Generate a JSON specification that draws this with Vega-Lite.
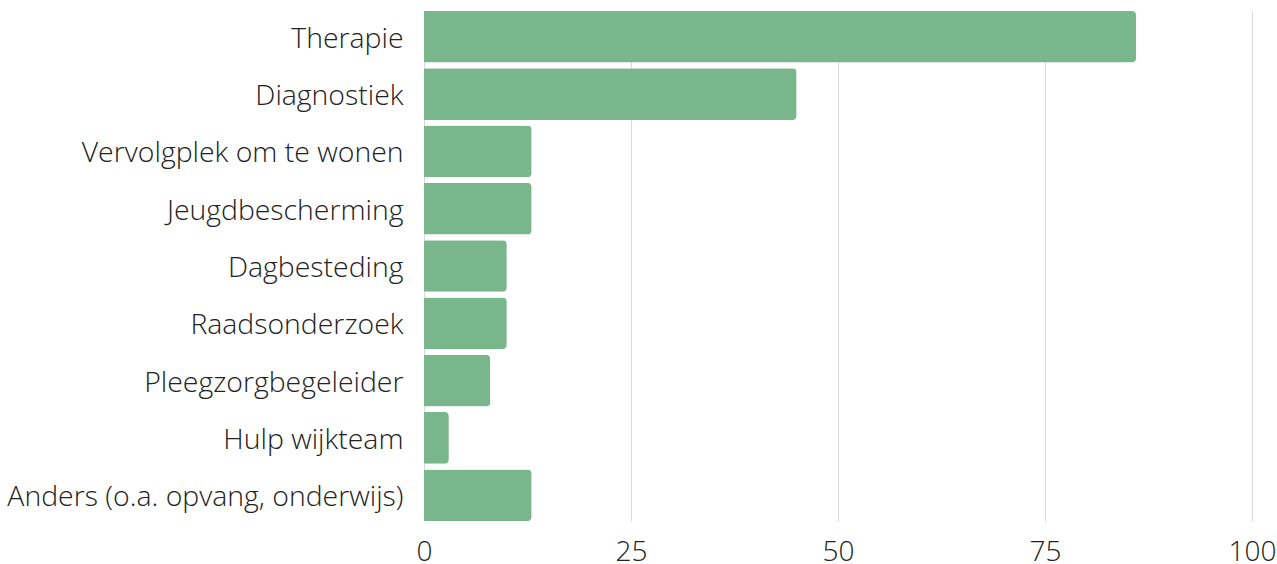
{
  "$schema": "https://vega.github.io/schema/vega-lite/v6.json",
  "width": 828,
  "height": 510,
  "autosize": {"type": "none"},
  "padding": {"left": 424, "top": 11, "right": 25, "bottom": 43},
  "background": "white",
  "config": {"view": {"stroke": null}, "font": "Open Sans"},
  "data": {"values": [
    {"category": "Therapie", "value": 86},
    {"category": "Diagnostiek", "value": 45},
    {"category": "Vervolgplek om te wonen", "value": 13},
    {"category": "Jeugdbescherming", "value": 13},
    {"category": "Dagbesteding", "value": 10},
    {"category": "Raadsonderzoek", "value": 10},
    {"category": "Pleegzorgbegeleider", "value": 8},
    {"category": "Hulp wijkteam", "value": 3},
    {"category": "Anders (o.a. opvang, onderwijs)", "value": 13}
  ]},
  "mark": {"type": "bar", "color": "#79b68c", "cornerRadiusEnd": 4},
  "encoding": {
    "y": {
      "field": "category", "type": "nominal", "sort": null,
      "scale": {"paddingInner": 0.1, "paddingOuter": 0},
      "axis": {"title": null, "ticks": false, "domain": false, "labelPadding": 21, "labelOffset": 2,
               "labelFont": "Open Sans", "labelFontWeight": 300, "labelFontSize": 28.4,
               "labelColor": "#222222", "labelLimit": 500}
    },
    "x": {
      "field": "value", "type": "quantitative",
      "scale": {"domain": [0, 100], "nice": false},
      "axis": {"title": null, "values": [0, 25, 50, 75, 100], "ticks": false, "domain": false,
               "grid": true, "gridColor": "#d9d9d9", "gridWidth": 1,
               "labelPadding": 17, "labelFont": "Open Sans", "labelFontWeight": 300,
               "labelFontSize": 28, "labelColor": "#222222", "labelFlush": false}
    }
  }
}
